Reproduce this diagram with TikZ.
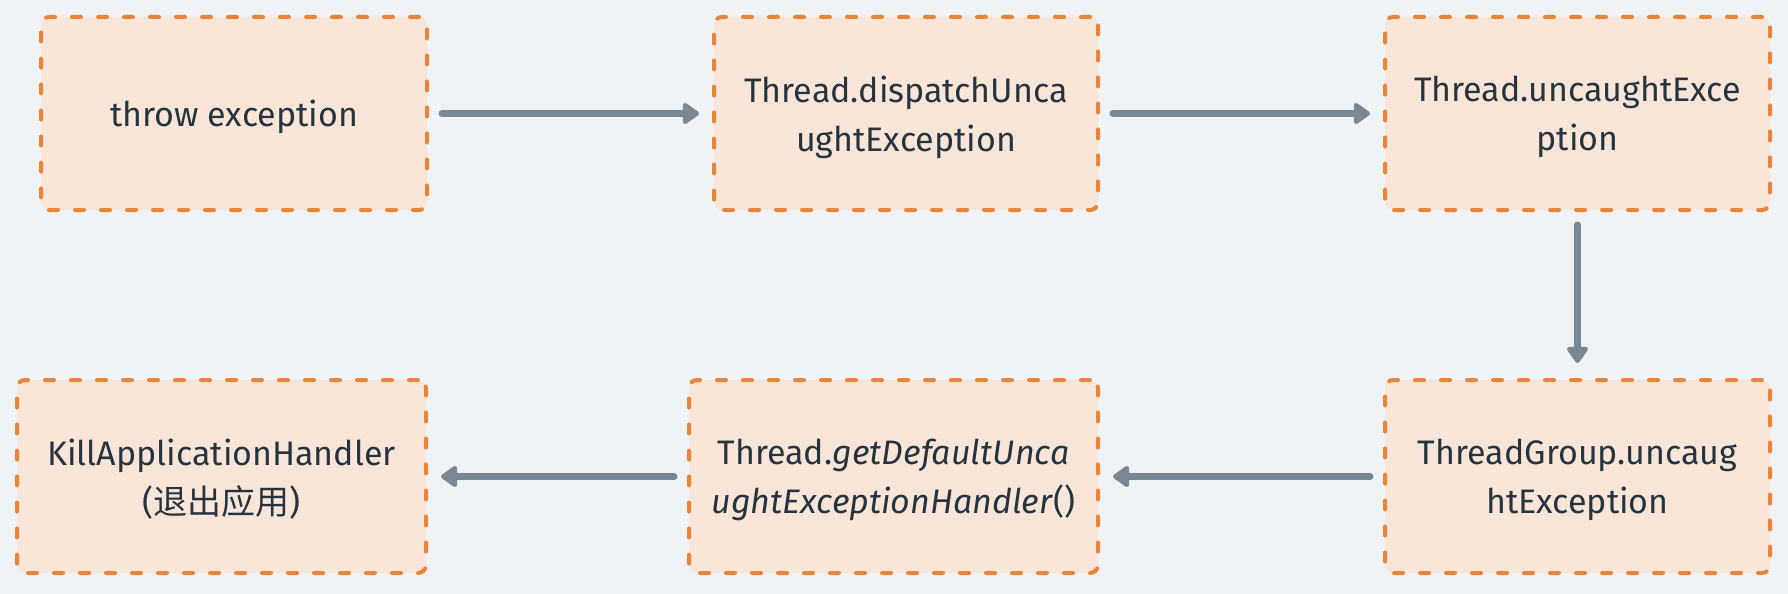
\documentclass[tikz,border=0pt]{standalone}
\usepackage{fontspec}
\setmainfont{Fira Sans}
\newfontfamily\cjkfont{Noto Sans CJK SC}
\usetikzlibrary{arrows.meta}
\definecolor{bgc}{HTML}{F0F3F6}
\definecolor{boxfill}{HTML}{FAE6D8}
\definecolor{boxline}{HTML}{E8853A}
\definecolor{arrowc}{HTML}{7A8795}
\definecolor{textc}{HTML}{263440}
\tikzset{
  flowbox/.style={draw=boxline, fill=boxfill, line width=4pt, dash pattern=on 9pt off 17pt,
    line cap=round, rounded corners=8pt, minimum height=193pt, inner sep=0pt,
    text=textc, align=center, text depth=0pt, font=\fontsize{34}{49}\selectfont},
  flowarrow/.style={draw=arrowc, line width=7pt, line cap=round,
    -{Triangle[length=18pt,width=24pt,round]}, shorten <=13pt, shorten >=13pt}
}
\begin{document}
\begin{tikzpicture}[x=1pt,y=-1pt]
\fill[bgc] (0,0) rectangle (1788,594);
\useasboundingbox (0,0) rectangle (1788,594);
\node[flowbox, minimum width=386pt] (b1) at (234,113.5) {throw exception};
\node[flowbox, minimum width=384pt] (b2) at (906,113.5) {Thread.dispatchUnca\\ughtException};
\node[flowbox, minimum width=385pt] (b3) at (1577.5,113.5) {Thread.uncaughtExce\\ption};
\node[flowbox, minimum width=409pt] (b4) at (221.5,476.5) {KillApplicationHandler\\({\cjkfont 退出应用})};
\node[flowbox, minimum width=409pt] (b5) at (893.5,476.5) {Thread.\textit{getDefaultUnca}\\\textit{ughtExceptionHandler}()};
\node[flowbox, minimum width=385pt] (b6) at (1577.5,476.5) {ThreadGroup.uncaug\\htException};
\draw[flowarrow] (b1) -- (b2);
\draw[flowarrow] (b2) -- (b3);
\draw[flowarrow, shorten >=15pt] (b3) -- (b6);
\draw[flowarrow] (b6) -- (b5);
\draw[flowarrow] (b5) -- (b4);
\end{tikzpicture}
\end{document}
